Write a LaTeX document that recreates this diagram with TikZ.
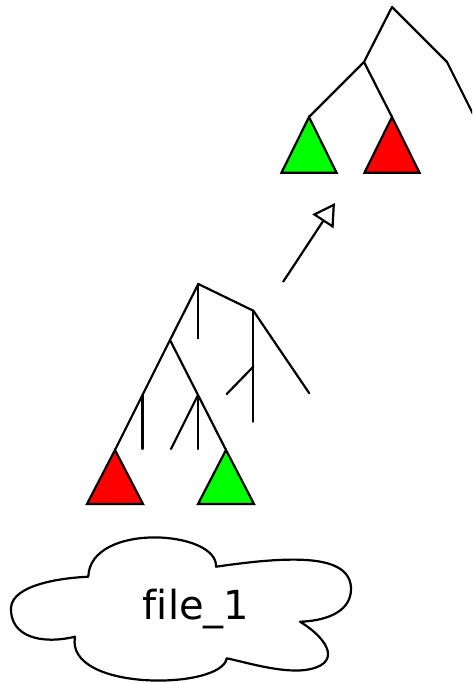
\documentclass[tikz,border=0pt]{standalone}
\usepackage{fontspec}
\setmainfont{DejaVu Sans}[Ligatures=NoCommon]
\usetikzlibrary{arrows.meta}
\definecolor{tgreen}{HTML}{00FF00}
\definecolor{tred}{HTML}{FF0000}
\begin{document}
\begin{tikzpicture}[x=1pt,y=-1pt,
  edge/.style={draw=black,line width=2.2pt,line cap=round,line join=round},
  tri/.style={draw=black,line width=2.2pt,line join=miter},
  cloudline/.style={draw=black,line width=2.2pt,fill=white,line join=round}]
\useasboundingbox (0,0) rectangle (472,683);
\clip (0,0) rectangle (472,683);
% ---------- top tree ----------
\coordinate (troot) at (392,7);
\coordinate (tl) at (364,62);
\coordinate (tr) at (447,62);
\coordinate (trend) at (482,132);
\coordinate (tga) at (309,117);
\coordinate (tra) at (392,117);
\path[tri,fill=tgreen] (tga) -- ++(-27.5,55.7) -- ++(55,0) -- cycle;
\path[tri,fill=tred] (tra) -- ++(-27.5,55.7) -- ++(55,0) -- cycle;
\draw[edge] (tga) -- (tl) -- (troot) -- (tr) -- (trend);
\draw[edge] (tl) -- (tra);
% ---------- arrow ----------
\coordinate (afrom) at (283,282);
\coordinate (ato) at (335,203);
\draw[edge,line cap=butt,-{Triangle[open,fill=white,length=22pt,width=25pt]}] (afrom) -- (ato);
% ---------- bottom tree ----------
\coordinate (broot) at (198.3,284);
\coordinate (bstub) at (198.3,338.3);
\coordinate (bn1) at (253.3,310.7);
\coordinate (bn1down) at (253.3,421.7);
\coordinate (bn1diag) at (309.3,393.3);
\coordinate (bn1mid) at (253.3,366.7);
\coordinate (bn1br) at (226.7,394);
\coordinate (bn2) at (170,340);
\coordinate (bra) at (115,450);
\coordinate (bga) at (226,450);
\coordinate (bm1) at (142.5,395);
\coordinate (bm1d) at (142.5,449);
\coordinate (bm2) at (198,395);
\coordinate (bm2d) at (198,449);
\coordinate (bm2l) at (171,449);
\path[tri,fill=tred] (bra) -- ++(-28,54) -- ++(56,0) -- cycle;
\path[tri,fill=tgreen] (bga) -- ++(-28,54) -- ++(56,0) -- cycle;
\draw[edge] (broot) -- (bstub);
\draw[edge] (broot) -- (bn1) -- (bn1diag);
\draw[edge] (bn1) -- (bn1down);
\draw[edge] (bn1mid) -- (bn1br);
\draw[edge] (broot) -- (bn2) -- (bra);
\draw[edge] (bn2) -- (bga);
\draw[edge] (bm1) -- (bm1d);
\draw[edge] (bm2) -- (bm2d);
\draw[edge] (bm2) -- (bm2l);
% ---------- cloud ----------
\coordinate (cA) at (88.3,576.7);
\coordinate (cB) at (216,566.7);
\coordinate (cC) at (300,621.7);
\coordinate (cD) at (226.7,658.3);
\coordinate (cE) at (75,636.7);
\path[cloudline] (cA) .. controls (90,522) and (218,530) .. (cB)
  .. controls (290,556) and (352,553) .. (351,590)
  .. controls (350,614) and (322,621) .. (cC)
  .. controls (330,640) and (342,665) .. (305,670)
  .. controls (280,673) and (245,662) .. (cD)
  .. controls (222,690) and (65,692) .. (cE)
  .. controls (40,645) and (10,636) .. (11,608)
  .. controls (12,585) and (60,578) .. (cA) -- cycle;
\node[font=\fontsize{40}{48}\selectfont,inner sep=0pt] (lbl) at (196,609) {file\_1};
\end{tikzpicture}
\end{document}
